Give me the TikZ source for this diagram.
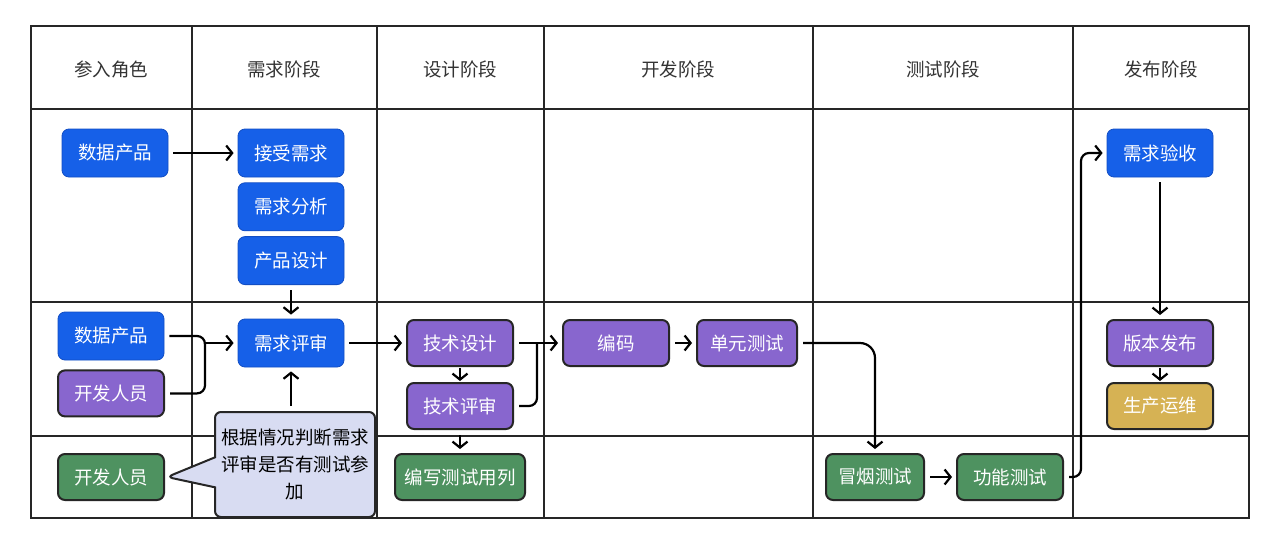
\documentclass[tikz,border=0pt]{standalone}
\usepackage{fontspec}
\setmainfont{Noto Sans CJK SC}
\usetikzlibrary{arrows.meta, positioning, calc, shapes.callouts}

\definecolor{reqblue}{RGB}{22,96,232}
\definecolor{reqedge}{RGB}{18,78,196}
\definecolor{devpurple}{RGB}{136,102,206}
\definecolor{testgreen}{RGB}{78,146,96}
\definecolor{opsgold}{RGB}{214,178,84}
\definecolor{notefill}{RGB}{216,220,242}

\begin{document}
\begin{tikzpicture}[
  x=1pt, y=-1pt,
  grid/.style   = {draw=black!85, line width=1.2pt},
  head/.style   = {font=\fontsize{18.5}{22}\selectfont, text=black!80},
  box/.style    = {rounded corners=7pt, minimum width=106pt, minimum height=46pt,
                   inner sep=0pt, text=white, font=\fontsize{18.5}{22}\selectfont},
  bluebox/.style   = {box, fill=reqblue, draw=reqedge, line width=0.8pt, minimum height=48pt},
  purplebox/.style = {box, fill=devpurple, draw=black!85, line width=2pt},
  greenbox/.style  = {box, fill=testgreen, draw=black!85, line width=2pt},
  goldbox/.style   = {box, fill=opsgold, draw=black!85, line width=2pt},
  note/.style   = {rectangle callout, fill=notefill, draw=black!85, line width=2pt,
                   rounded corners=6pt, minimum width=160pt, minimum height=105pt,
                   inner sep=0pt, align=center, callout pointer width=30pt,
                   font=\fontsize{18.5}{27}\selectfont},
  link/.style   = {line width=2.2pt, shorten <=5pt},
  arrow/.style  = {link, shorten >=4pt, -{Straight Barb[length=6pt, width=15pt]}},
  tight/.style  = {arrow, shorten <=1pt, shorten >=1pt}
]

  % page and swimlane grid
  \fill[white] (0,0) rectangle (1280,544);
  \useasboundingbox (0,0) rectangle (1280,544);
  \draw[grid] (31,26) rectangle (1249,518);
  \foreach \x in {192,377,544,813,1073}
    \draw[grid] (\x,26) -- (\x,518);
  \foreach \y in {109,302,436}
    \draw[grid] (31,\y) -- (1249,\y);

  % column heads
  \foreach \x/\t [count=\i] in {111/参入角色, 284/需求阶段, 460/设计阶段,
                                678/开发阶段, 943/测试阶段, 1161/发布阶段}
    \node[head] (head\i) at (\x,69) {\t};

  % requirement stage
  \node[bluebox] (prodTop) at (115,153) {数据产品};
  \node[bluebox] (accept) at (291,153) {接受需求};
  \node[bluebox, below=5pt of accept] (analysis) {需求分析};
  \node[bluebox, below=5pt of analysis] (design) {产品设计};
  \node[bluebox] (review) at (291,343) {需求评审};

  % roles joining the review
  \node[bluebox] (prodMid) at (111,336) {数据产品};
  \node[purplebox, below=9pt of prodMid] (devMid) {开发人员};
  \node[greenbox] (devLow) at (111,477) {开发人员};

  % remark
  \node[note, callout absolute pointer={($(devLow.east)+(2,0)$)}] (remark) at (295,464.5)
    {根据情况判断需求\\评审是否有测试参\\加};

  % design stage
  \node[purplebox] (techDesign) at (460,343) {技术设计};
  \node[purplebox, below=15pt of techDesign] (techReview) {技术评审};
  \node[greenbox, minimum width=130pt] (testCase) at (460,477) {编写测试用列};

  % development stage
  \node[purplebox] (coding) at (616,343) {编码};
  \node[purplebox, minimum width=100pt, right=26pt of coding] (unitTest) {单元测试};

  % test stage
  \node[greenbox, minimum width=98pt] (smoke) at (875,477) {冒烟测试};
  \node[greenbox, right=31pt of smoke] (funcTest) {功能测试};

  % release stage
  \node[bluebox] (accept2) at (1160,153) {需求验收};
  \node[purplebox] (release) at (1160,343) {版本发布};
  \node[goldbox, below=15pt of release] (ops) {生产运维};

  % connectors
  \draw[arrow] (prodTop.east) -- (accept.west);
  \draw[arrow] (design.south) -- (review.north);

  \coordinate (join) at (205,343);
  \draw[link, rounded corners=8pt] (prodMid.east) -| (join);
  \draw[link, rounded corners=8pt] (devMid.east) -| (join);
  \draw[arrow, shorten <=0pt] (join) -- (review.west);

  \draw[arrow] (remark.north -| review.south) -- (review.south);

  \draw[arrow] (review.east) -- (techDesign.west);
  \draw[tight] (techDesign.south) -- (techReview.north);
  \draw[arrow] (techReview.south) -- (testCase.north);

  \coordinate (join2) at (537,343);
  \draw[link, rounded corners=8pt] (techReview.east) -| (join2);
  \draw[arrow] (techDesign.east) -- (coding.west);
  \draw[arrow] (coding.east) -- (unitTest.west);

  \draw[arrow, rounded corners=15pt] (unitTest.east) -| (smoke.north);
  \draw[arrow] (smoke.east) -- (funcTest.west);
  \draw[arrow, rounded corners=8pt] (funcTest.east) -- ($(funcTest.east)+(17,0)$) |- (accept2.west);

  \draw[arrow] (accept2.south) -- (release.north);
  \draw[tight] (release.south) -- (ops.north);

\end{tikzpicture}
\end{document}
